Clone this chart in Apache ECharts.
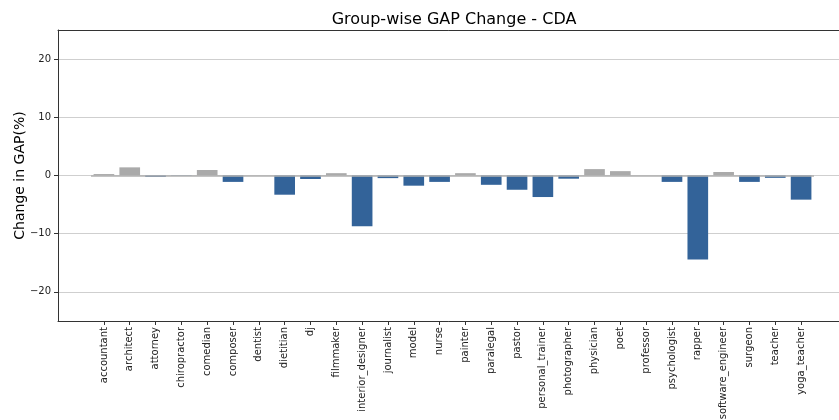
<!DOCTYPE html>
<html><head><meta charset="utf-8">
<script src="https://cdn.jsdelivr.net/npm/echarts@6/dist/echarts.min.js"></script>
<style>html,body{margin:0;padding:0;background:#fff;}#c{width:839px;height:420px;}</style>
</head><body><div id="c"></div>
<script>
const categories = ["accountant","architect","attorney","chiropractor","comedian","composer","dentist","dietitian","dj","filmmaker","interior_designer","journalist","model","nurse","painter","paralegal","pastor","personal_trainer","photographer","physician","poet","professor","psychologist","rapper","software_engineer","surgeon","teacher","yoga_teacher"];
const gapChange = [0.25,1.4,-0.25,-0.05,0.95,-1.1,0,-3.3,-0.6,0.4,-8.7,-0.45,-1.75,-1.1,0.4,-1.6,-2.45,-3.7,-0.55,1.1,0.75,0,-1.1,-14.45,0.6,-1.1,-0.4,-4.15];
const yMin = -25, yMax = 25;
const titleText = "Group-wise GAP Change - CDA";
const yLabel = "Change in GAP(%)";

const font = "DejaVu Sans";
const spine = {show:true,onZero:false,lineStyle:{color:'#333',width:1}};
const chart = echarts.init(document.getElementById('c'), null, {renderer:'canvas'});
chart.setOption({
  animation:false,
  title:{text:titleText,left:449,top:7,textAlign:'center',textStyle:{fontFamily:font,fontSize:16,fontWeight:'normal',color:'#000'}},
  grid:[
    {left:58,right:-8,top:30,bottom:99,show:false,containLabel:false,outerBoundsMode:'none'},
    {left:91,right:25,top:30,bottom:99,containLabel:false,outerBoundsMode:'none'}
  ],
  xAxis:[
    {type:'value',gridIndex:0,min:0,max:1,position:'bottom',axisLine:spine,axisTick:{show:false},axisLabel:{show:false},splitLine:{show:false}},
    {type:'category',gridIndex:1,data:categories,
     axisLine:{show:false,onZero:false},
     axisTick:{show:true,alignWithLabel:true,length:4,lineStyle:{color:'#333'}},
     axisLabel:{rotate:90,interval:0,fontFamily:font,fontSize:10,color:'#222',margin:6}},
    {type:'value',gridIndex:0,min:0,max:1,position:'top',axisLine:spine,axisTick:{show:false},axisLabel:{show:false},splitLine:{show:false}}
  ],
  yAxis:[
    {type:'value',gridIndex:0,min:yMin,max:yMax,splitNumber:5,minInterval:10,maxInterval:10,
     axisLine:{show:true,onZero:false,lineStyle:{color:'#333',width:1}},
     axisTick:{show:true,length:4,lineStyle:{color:'#333'}},
     axisLabel:{showMinLabel:false,showMaxLabel:false,fontFamily:font,fontSize:10,color:'#222',margin:7,
       formatter:v=>v<0?'\u2212'+Math.abs(v):String(v)},
     splitLine:{show:true,lineStyle:{color:'#cfcfcf',width:1.2}},
     name:yLabel,nameLocation:'middle',nameGap:31,nameMoveOverlap:false,nameTextStyle:{fontFamily:font,fontSize:14,color:'#000'}},
    {type:'value',gridIndex:1,min:yMin,max:yMax,show:false,splitLine:{show:false}}
  ],
  series:[{
    type:'bar',xAxisIndex:1,yAxisIndex:1,barWidth:'80%',
    data:gapChange.map(v=>({value:v,itemStyle:{color:v>=0?'#aaaaaa':'#336399'}})),
    markLine:{silent:true,symbol:'none',label:{show:false},lineStyle:{color:'#b0b0b0',width:1.5,type:'solid'},data:[{yAxis:0}]}
  }]
});
</script></body></html>
